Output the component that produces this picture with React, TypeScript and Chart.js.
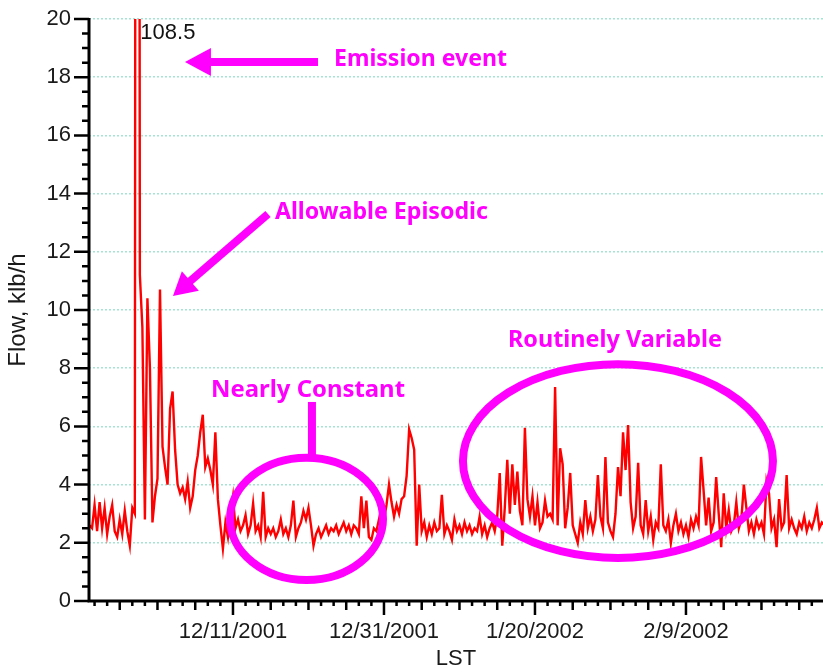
import React, { useEffect, useRef } from 'react';
import { Chart, registerables } from 'chart.js';

Chart.register(...registerables);

// Time axis: days relative to 12/11/2001, samples every 8 hours
const START_DAY = -19;
const STEP_DAYS = 1 / 3;
const X_MIN = -19.07;
const X_MAX = 78.15;

// Flow, klb/h, 8-hour samples, in 10-day segments
const FLOW_SEG_A = [2.6, 2.5, 3.3, 2.4, 3.4, 2.5, 3.2, 2.3, 2.9, 3.3, 2.4, 2.2, 2.8, 2.3, 3.1, 2.4, 1.9, 3.2, 3.0, 108.5, 11.2, 9.4, 2.8, 10.4, 8.0, 2.7, 3.6, 4.2, 10.7, 5.3];
const FLOW_SEG_B = [4.6, 4.0, 6.6, 7.2, 5.2, 4.0, 3.7, 3.9, 3.5, 4.1, 3.2, 3.6, 4.5, 5.0, 5.8, 6.4, 4.6, 4.9, 4.5, 4.0, 5.8, 3.5, 2.6, 1.8, 2.7, 2.2, 3.0, 3.6, 2.5, 2.8];
const FLOW_SEG_C = [2.4, 2.6, 2.95, 2.3, 2.6, 3.35, 2.4, 2.6, 2.2, 3.75, 2.2, 2.5, 2.3, 2.5, 2.2, 2.4, 2.8, 2.3, 2.5, 2.2, 2.6, 3.45, 2.2, 2.5, 2.7, 3.1, 2.8, 3.2, 2.6, 1.9];
const FLOW_SEG_D = [2.3, 2.5, 2.2, 2.4, 2.6, 2.3, 2.5, 2.4, 2.6, 2.3, 2.5, 2.7, 2.4, 2.6, 2.3, 2.6, 2.5, 2.3, 3.6, 2.5, 3.45, 2.2, 2.1, 2.5, 2.4, 2.8, 3.2, 2.8, 3.3, 4.0];
const FLOW_SEG_E = [3.4, 2.9, 3.3, 3.0, 3.5, 3.6, 4.3, 5.9, 5.6, 5.2, 1.9, 4.0, 2.4, 2.7, 2.2, 2.6, 2.3, 2.7, 2.4, 2.5, 3.65, 2.3, 2.6, 2.4, 2.1, 2.8, 2.4, 2.6, 2.3, 2.7];
const FLOW_SEG_F = [2.4, 2.6, 2.3, 2.5, 2.4, 2.9, 2.3, 2.6, 2.2, 2.5, 2.7, 2.4, 2.9, 4.4, 1.9, 3.2, 4.85, 3.0, 4.7, 3.3, 4.45, 3.1, 2.6, 5.95, 3.5, 2.9, 3.6, 2.6, 3.4, 2.5];
const FLOW_SEG_G = [2.7, 3.45, 2.9, 3.0, 2.8, 7.35, 2.6, 5.25, 4.7, 2.5, 3.2, 4.4, 2.6, 2.3, 2.0, 2.7, 2.3, 3.47, 2.5, 2.9, 2.4, 2.8, 4.33, 2.9, 2.5, 4.95, 2.7, 2.4, 2.2, 3.0];
const FLOW_SEG_H = [4.6, 3.6, 5.8, 4.5, 6.05, 3.4, 2.5, 2.9, 4.75, 2.6, 2.3, 3.47, 2.4, 2.9, 2.1, 2.7, 2.5, 4.7, 2.6, 2.4, 2.8, 2.0, 2.6, 3.0, 2.4, 2.7, 2.3, 2.6, 2.2, 2.8];
const FLOW_SEG_I = [2.5, 2.9, 2.6, 4.95, 3.8, 2.6, 3.55, 2.4, 2.7, 4.26, 3.0, 1.85, 3.7, 2.5, 3.13, 2.4, 2.6, 3.4, 2.5, 2.8, 4.0, 3.2, 2.4, 2.7, 2.3, 2.8, 2.5, 2.7, 2.3, 4.1];
const FLOW_SEG_J = [3.7, 2.5, 2.8, 1.85, 3.5, 2.5, 2.7, 4.33, 2.5, 2.8, 2.5, 2.3, 2.7, 2.5, 2.9, 2.4, 2.7, 2.5, 2.8, 3.2, 2.5, 2.7, 2.6];

const FLOW = [
  ...FLOW_SEG_A, ...FLOW_SEG_B, ...FLOW_SEG_C, ...FLOW_SEG_D, ...FLOW_SEG_E,
  ...FLOW_SEG_F, ...FLOW_SEG_G, ...FLOW_SEG_H, ...FLOW_SEG_I, ...FLOW_SEG_J,
];

const DATE_TICK_DAYS = [0, 20, 40, 60];
const DATE_LABELS = ['12/11/2001', '12/31/2001', '1/20/2002', '2/9/2002'];
const PEAK_LABEL = '108.5';

const Y_TITLE = 'Flow, klb/h';
const X_TITLE = 'LST';

const ANNOT_TEXTS = ['Emission event', 'Allowable Episodic', 'Nearly Constant', 'Routinely Variable'];

const MAGENTA = '#ff00ff';
const AXIS_FONT = '"Liberation Sans", Arial, sans-serif';

const dayAt = (i: number) => START_DAY + i * STEP_DAYS;

// annotation geometry in data coordinates (day, flow)
const TEXT_POS = [
  { day: 13.38, value: 18.38, width: 173 },
  { day: 5.56, value: 13.13, width: 213 },
  { day: -2.91, value: 7.01, width: 194 },
  { day: 36.42, value: 8.73, width: 214 },
];
const ARROWS = [
  { fromDay: 11.26, fromValue: 18.52, toDay: -6.36, toValue: 18.52, head: 26, half: 14 },
  { fromDay: 4.64, fromValue: 13.3, toDay: -7.95, toValue: 10.48, head: 23, half: 13 },
];
const ELLIPSES = [
  { day: 9.74, value: 2.82, rDays: 10.13, rValue: 2.1 },
  { day: 50.99, value: 4.81, rDays: 20.53, rValue: 3.33 },
];
const STEM = { day: 10.46, fromValue: 6.84, toValue: 4.91 };

const axisPlugin = {
  id: 'axisTicks',
  afterDatasetsDraw(chart: any) {
    const { ctx, chartArea: ca, scales } = chart;
    const x = scales.x, y = scales.y;
    ctx.save();
    ctx.strokeStyle = '#000';
    ctx.lineWidth = 2.5;
    ctx.beginPath();
    for (let k = 0; k <= 40; k++) {
      const py = y.getPixelForValue(k * 0.5);
      const len = k % 4 === 0 ? 15 : 7;
      ctx.moveTo(ca.left - len, py);
      ctx.lineTo(ca.left, py);
    }
    const step = 5 / 3;
    for (let k = Math.ceil(X_MIN / step); k * step <= X_MAX; k++) {
      const px = x.getPixelForValue(k * step);
      const len = k % 12 === 0 ? 14 : k % 3 === 0 ? 9 : 5;
      ctx.moveTo(px, ca.bottom);
      ctx.lineTo(px, ca.bottom + len);
    }
    ctx.stroke();
    ctx.lineWidth = 3;
    ctx.beginPath();
    ctx.moveTo(ca.left, ca.top - 1);
    ctx.lineTo(ca.left, ca.bottom + 1.5);
    ctx.moveTo(ca.left - 1.5, ca.bottom);
    ctx.lineTo(ca.right, ca.bottom);
    ctx.stroke();
    ctx.restore();
  },
};

const annotPlugin = {
  id: 'annotations',
  afterDatasetsDraw(chart: any) {
    const { ctx, chartArea: ca, scales } = chart;
    const X = (d: number) => scales.x.getPixelForValue(d);
    const Y = (v: number) => scales.y.getPixelForValue(v);
    ctx.save();

    // peak value label
    let peakIdx = 0;
    FLOW.forEach((v, i) => { if (v > FLOW[peakIdx]) peakIdx = i; });
    ctx.fillStyle = '#111';
    ctx.font = `22px ${AXIS_FONT}`;
    ctx.textAlign = 'left';
    ctx.textBaseline = 'top';
    ctx.fillText(PEAK_LABEL, X(dayAt(peakIdx)) + 3, ca.top + 3);

    ctx.strokeStyle = MAGENTA;
    ctx.fillStyle = MAGENTA;
    ctx.lineWidth = 8;

    for (const e of ELLIPSES) {
      const cx = X(e.day), cy = Y(e.value);
      ctx.beginPath();
      ctx.ellipse(cx, cy, Math.abs(X(e.day + e.rDays) - cx), Math.abs(Y(e.value + e.rValue) - cy), 0, 0, Math.PI * 2);
      ctx.stroke();
    }

    ctx.beginPath();
    ctx.moveTo(X(STEM.day), Y(STEM.fromValue));
    ctx.lineTo(X(STEM.day), Y(STEM.toValue));
    ctx.stroke();

    for (const a of ARROWS) {
      const x1 = X(a.fromDay), y1 = Y(a.fromValue), x2 = X(a.toDay), y2 = Y(a.toValue);
      const dx = x2 - x1, dy = y2 - y1;
      const L = Math.hypot(dx, dy);
      const ux = dx / L, uy = dy / L;
      const bx = x2 - ux * a.head, by = y2 - uy * a.head;
      ctx.beginPath();
      ctx.moveTo(x1, y1);
      ctx.lineTo(bx + ux * 2, by + uy * 2);
      ctx.stroke();
      ctx.beginPath();
      ctx.moveTo(x2, y2);
      ctx.lineTo(bx - uy * a.half, by + ux * a.half);
      ctx.lineTo(bx + uy * a.half, by - ux * a.half);
      ctx.closePath();
      ctx.fill();
    }

    ctx.font = 'bold 24px "Noto Sans", sans-serif';
    ctx.textBaseline = 'alphabetic';
    ANNOT_TEXTS.forEach((t, i) => {
      const p = TEXT_POS[i];
      const w = ctx.measureText(t).width;
      ctx.save();
      ctx.translate(X(p.day), Y(p.value));
      ctx.scale(p.width / w, 1);
      ctx.fillText(t, 0, 0);
      ctx.restore();
    });

    ctx.restore();
  },
};

export default function App() {
  const ref = useRef<HTMLCanvasElement | null>(null);
  useEffect(() => {
    if (!ref.current) return;
    const points = FLOW.map((v, i) => ({ x: dayAt(i), y: v }));
    const chart = new Chart(ref.current, {
      type: 'line',
      data: {
        datasets: [
          {
            data: points,
            borderColor: '#ff0000',
            borderWidth: 2.4,
            pointRadius: 0,
            tension: 0,
            fill: false,
          },
        ],
      },
      options: {
        responsive: false,
        animation: false,
        layout: { padding: { top: 19, left: 0, right: 0, bottom: 0 } },
        plugins: { legend: { display: false }, tooltip: { enabled: false } },
        scales: {
          x: {
            type: 'linear',
            min: X_MIN,
            max: X_MAX,
            afterBuildTicks: (scale: any) => {
              scale.ticks = DATE_TICK_DAYS.map((v) => ({ value: v }));
            },
            afterFit: (scale: any) => { scale.height = 71; },
            grid: { display: false, drawTicks: false },
            border: { display: false },
            ticks: {
              autoSkip: false,
              maxRotation: 0,
              padding: 18,
              color: '#1a1a1a',
              font: { family: AXIS_FONT, size: 22 },
              callback: (v: any) => {
                const i = DATE_TICK_DAYS.indexOf(Number(v));
                return i >= 0 ? DATE_LABELS[i] : '';
              },
            },
            title: {
              display: true,
              text: X_TITLE,
              color: '#1a1a1a',
              font: { family: AXIS_FONT, size: 22 },
              padding: { top: 0, bottom: 0 },
            },
          },
          y: {
            type: 'linear',
            min: 0,
            max: 20,
            afterFit: (scale: any) => { scale.width = 89; },
            grid: {
              color: '#a6e3d3',
              lineWidth: 1.5,
              drawTicks: true,
              tickLength: 18,
              tickColor: 'rgba(0,0,0,0)',
            },
            border: { display: false, dash: [2, 2] },
            ticks: {
              stepSize: 2,
              padding: 0,
              color: '#1a1a1a',
              font: { family: AXIS_FONT, size: 22 },
            },
            title: {
              display: true,
              text: Y_TITLE,
              color: '#1a1a1a',
              font: { family: AXIS_FONT, size: 24 },
              padding: { top: 4, bottom: 0 },
            },
          },
        },
      },
      plugins: [axisPlugin, annotPlugin],
    });
    return () => chart.destroy();
  }, []);

  return (
    <canvas
      ref={ref}
      width={823}
      height={672}
      style={{ display: 'block', position: 'fixed', left: 0, top: 0, background: '#fff' }}
    />
  );
}
